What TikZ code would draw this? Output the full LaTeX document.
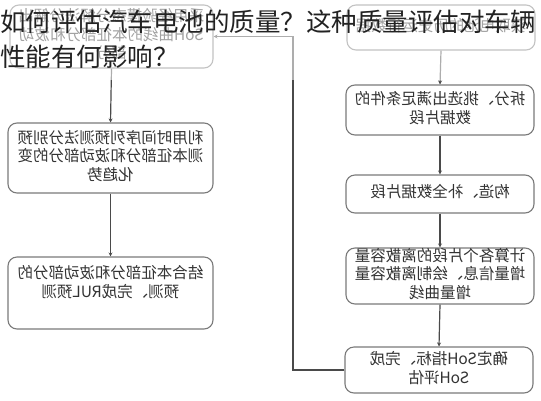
\documentclass[tikz,border=0pt]{standalone}
\usepackage{fontspec}
\newfontfamily\cjk{Noto Sans CJK SC}
\usetikzlibrary{arrows.meta}
\definecolor{boxline}{HTML}{7A7A7A}
\definecolor{conn}{HTML}{4A4A4A}
\definecolor{txt}{HTML}{333333}
\definecolor{ttl}{HTML}{222222}
\newcommand{\mirtext}[1]{\reflectbox{\fontsize{15.5}{18}\selectfont\begin{tabular}{@{}c@{}}#1\end{tabular}}}
\begin{document}
\begin{tikzpicture}[x=1pt,y=-1pt,
  box/.style={draw=boxline,line width=1.1pt,rounded corners=9pt,fill=white,
    inner sep=0pt,text=txt,font=\cjk},
  conn/.style={draw=conn,line width=1.2pt,-{Stealth[length=4pt,width=4pt]}}]
\useasboundingbox[fill=white] (0,0) rectangle (541,400);
% left column
\node[box,minimum width=203pt,minimum height=63pt] (l1) at (111.5,36.5)
  {\mirtext{采用经验模态分解法分解出\\SoH曲线的本征部分和波动\\部分}};
\node[box,minimum width=205pt,minimum height=70pt] (l2) at (110.5,158)
  {\mirtext{利用时间序列预测法分别预\\测本征部分和波动部分的变\\化趋势}};
\node[box,minimum width=205pt,minimum height=72pt] (l3) at (110.5,293)
  {\mirtext{结合本征部分和波动部分的\\预测、完成RUL预测\\~}};
% right column
\node[box,minimum width=188pt,minimum height=45pt] (r1) at (441,27.5)
  {\mirtext{获取电池的历史运行数据}};
\node[box,minimum width=188pt,minimum height=50pt] (r2) at (440,110)
  {\mirtext{拆分、挑选出满足条件的\\数据片段}};
\node[box,minimum width=188pt,minimum height=38pt] (r3) at (440,194)
  {\mirtext{构造、补全数据片段}};
\node[box,minimum width=188pt,minimum height=56pt] (r4) at (440,276)
  {\mirtext{计算各个片段的离散容量\\增量信息、绘制离散容量\\增量曲线}};
\node[box,minimum width=188pt,minimum height=46pt] (r5) at (439,370)
  {\mirtext{确定SoH指标、完成\\SoH评估}};
\coordinate (fb) at (293,36.5);
% connectors
\draw[conn] (l1.south) -- (l2.north);
\draw[conn] (l2.south) -- (l3.north);
\draw[conn] (r1.south) -- (r2.north);
\draw[conn] (r2.south) -- (r3.north);
\draw[conn] (r3.south) -- (r4.north);
\draw[conn] (r4.south) -- (r5.north);
\draw[conn] (r5.west) -| (fb) -- (l1.east);
% faded title band
\fill[white,opacity=0.55] (0,0) rectangle (541,80);
\node[anchor=west,inner sep=0pt,text=ttl,font=\cjk\fontsize{25.5}{28}\selectfont] (t1) at (0,22)
  {如何评估汽车电池的质量？这种质量评估对车辆};
\node[anchor=west,inner sep=0pt,text=ttl,font=\cjk\fontsize{25.5}{28}\selectfont] (t2) at (0,57)
  {性能有何影响？};
\end{tikzpicture}
\end{document}
